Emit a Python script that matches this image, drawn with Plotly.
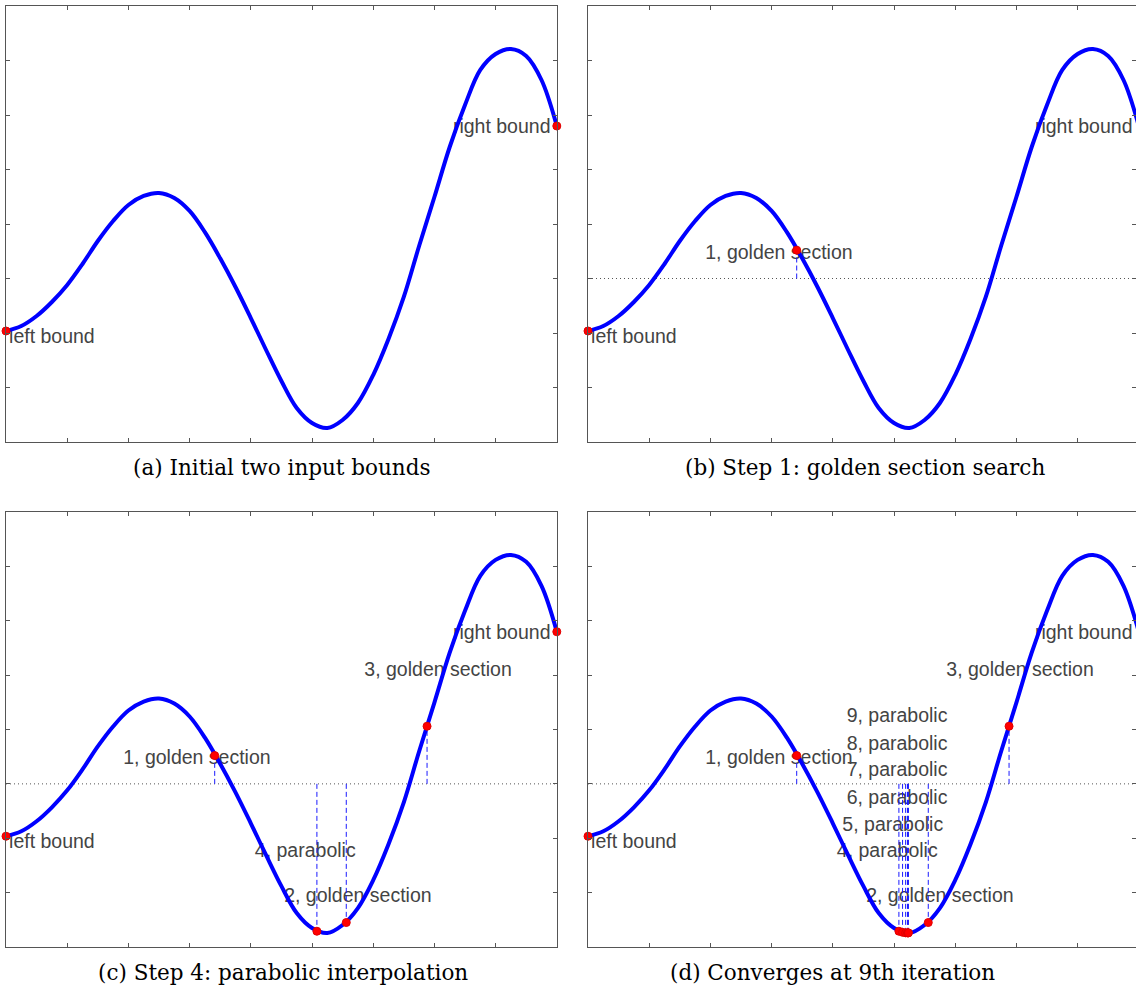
import plotly.graph_objects as go

# ---- data (axis units: x 0..9, y -3..5) ----
curve_x = [0.00, 0.25, 0.50, 0.75, 1.00, 1.25, 1.50, 1.75, 2.00, 2.25, 2.50, 2.75,
           3.00, 3.25, 3.50, 3.75, 4.00, 4.25, 4.50, 4.75, 5.00, 5.25, 5.50, 5.75,
           6.00, 6.25, 6.50, 6.75, 7.00, 7.25, 7.50, 7.75, 8.00, 8.25, 8.50, 8.75, 9.00]
curve_y = [-0.963, -0.872, -0.688, -0.431, -0.119, 0.266, 0.688, 1.055, 1.349, 1.514,
           1.569, 1.477, 1.239, 0.850, 0.370, -0.156, -0.725, -1.312, -1.881, -2.376,
           -2.651, -2.743, -2.596, -2.284, -1.771, -1.110, -0.339, 0.596, 1.495, 2.413,
           3.183, 3.826, 4.119, 4.211, 4.083, 3.642, 2.798]

bound_x = [0.0, 9.0]
bound_y = [-0.963, 2.798]
bound_labels = ["left bound", "right bound"]
bound_label_x = [0.75, 8.10]
bound_label_y = [-1.09, 2.76]

iter_num = [1, 2, 3, 4, 5, 6, 7, 8, 9]
iter_method = ["golden section", "golden section", "golden section", "parabolic",
               "parabolic", "parabolic", "parabolic", "parabolic", "parabolic"]
iter_x = [3.41, 5.56, 6.88, 5.08, 5.14, 5.19, 5.22, 5.23, 5.235]
iter_y = [0.52, -2.55, 1.06, -2.71, -2.73, -2.74, -2.74, -2.74, -2.74]
iter_label_x = [3.12, 5.75, 7.06, 4.89, 4.98, 5.05, 5.05, 5.05, 5.05]
iter_label_y = [0.45, -2.08, 2.08, -1.26, -0.78, -0.28, 0.23, 0.72, 1.22]

panel_iters = [0, 1, 4, 9]
captions = ["(a) Initial two input bounds", "(b) Step 1: golden section search",
            "(c) Step 4: parabolic interpolation", "(d) Converges at 9th iteration"]

# ---- layout geometry (pixels) ----
W, H = 1136, 987
px_per_x = 61.2
panels = [  # left, right, top, bottom in pixels
    (6, 557, 6, 442),
    (588, 1136, 6, 442),
    (6, 557, 512, 947),
    (588, 1136, 512, 947),
]
caption_pos = [(282, 467), (865, 467), (283, 972), (832, 972)]

TEXT_FONT = dict(family="Liberation Sans, Arial, sans-serif", size=19.5, color="#444444")
fig = go.Figure()

for i, (l, r, t, b) in enumerate(panels):
    n = panel_iters[i]
    xa = "x" if i == 0 else f"x{i+1}"
    ya = "y" if i == 0 else f"y{i+1}"
    xmax = (r - l) / px_per_x
    # text labels first (so the curve draws over them)
    tx = list(bound_label_x) + iter_label_x[:n]
    ty = list(bound_label_y) + iter_label_y[:n]
    tt = list(bound_labels) + [f"{k}, {m}" for k, m in zip(iter_num[:n], iter_method[:n])]
    fig.add_trace(go.Scatter(x=tx, y=ty, text=tt, mode="text", textposition="middle center",
                             textfont=TEXT_FONT, xaxis=xa, yaxis=ya, showlegend=False,
                             hoverinfo="skip", cliponaxis=False))
    if n > 0:
        # dotted zero line
        fig.add_trace(go.Scatter(x=[0, 9], y=[0, 0], mode="lines",
                                 line=dict(color="#555555", width=1, dash="1px,3px"),
                                 xaxis=xa, yaxis=ya, showlegend=False, hoverinfo="skip"))
        dx, dy = [], []
        for xv, yv in zip(iter_x[:n], iter_y[:n]):
            dx += [xv, xv, None]
            dy += [0, yv, None]
        fig.add_trace(go.Scatter(x=dx, y=dy, mode="lines",
                                 line=dict(color="#1a1aff", width=1, dash="5px,3px"),
                                 xaxis=xa, yaxis=ya, showlegend=False, hoverinfo="skip"))
    fig.add_trace(go.Scatter(x=curve_x, y=curve_y, mode="lines",
                             line=dict(color="#0000ff", width=4, shape="spline", smoothing=1.0),
                             xaxis=xa, yaxis=ya, showlegend=False, hoverinfo="skip"))
    fig.add_trace(go.Scatter(x=bound_x + iter_x[:n], y=bound_y + iter_y[:n], mode="markers",
                             marker=dict(color="#ff0000", size=8,
                                         line=dict(color="#e00000", width=1)),
                             xaxis=xa, yaxis=ya, showlegend=False, hoverinfo="skip",
                             cliponaxis=False))
    axcommon = dict(showgrid=False, zeroline=False, showticklabels=False, ticks="inside",
                    ticklen=4, tickwidth=1, tickcolor="#555555", showline=True,
                    linecolor="#555555", linewidth=1.3, mirror="ticks", dtick=1)
    fig.update_layout(**{
        ("xaxis" if i == 0 else f"xaxis{i+1}"): dict(
            domain=[l / W, r / W], range=[0, xmax], tick0=0, anchor=ya, **axcommon),
        ("yaxis" if i == 0 else f"yaxis{i+1}"): dict(
            domain=[1 - b / H, 1 - t / H], range=[-3, 5], tick0=-3, anchor=xa, **axcommon),
    })
    cx, cy = caption_pos[i]
    fig.add_annotation(text=captions[i], x=cx / W, y=1 - cy / H, xref="paper", yref="paper",
                       xanchor="center", yanchor="middle", showarrow=False,
                       font=dict(family="DejaVu Serif, Liberation Serif, serif", size=21.5,
                                 color="#000000"))

fig.update_layout(width=W, height=H, margin=dict(l=0, r=0, t=0, b=0),
                  paper_bgcolor="white", plot_bgcolor="white")
fig.write_html("out.html")
